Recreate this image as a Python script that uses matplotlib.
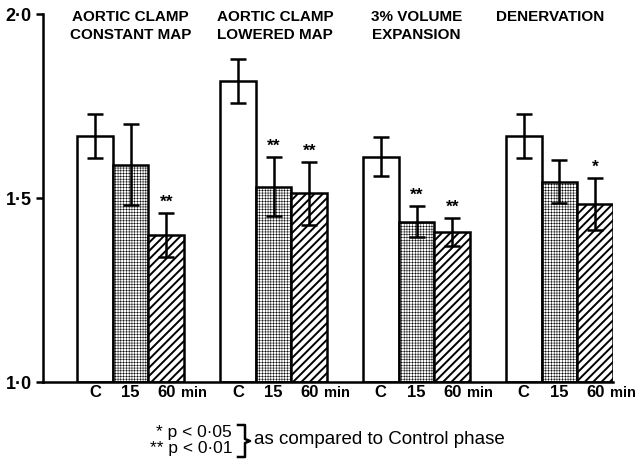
import matplotlib
matplotlib.use("Agg")
import matplotlib.pyplot as plt
import numpy as np
from matplotlib.lines import Line2D

groups = ["AORTIC CLAMP\nCONSTANT MAP", "AORTIC CLAMP\nLOWERED MAP",
          "3% VOLUME\nEXPANSION", "DENERVATION"]
phases = ["C", "15", "60"]
values_C = [1.669, 1.818, 1.612, 1.668]
errors_C = [0.060, 0.059, 0.053, 0.059]
values_15 = [1.590, 1.531, 1.436, 1.544]
errors_15 = [0.110, 0.080, 0.042, 0.058]
values_60 = [1.399, 1.513, 1.408, 1.484]
errors_60 = [0.060, 0.085, 0.038, 0.071]
stars_15 = ["", "**", "**", ""]
stars_60 = ["**", "**", "**", "*"]
yticks = [1.0, 1.5, 2.0]
ytick_labels = ["1·0", "1·5", "2·0"]

FONT = ["Liberation Sans", "DejaVu Sans"]
plt.rcParams['font.family'] = FONT
plt.rcParams['hatch.color'] = 'black'

fig = plt.figure(figsize=(6.42, 4.67), dpi=100)
ax = fig.add_axes([0.0665, 0.182, 0.8885, 0.788])

ng = len(groups)
gx = np.arange(ng) * 4.0
series = [(values_C, errors_C, None, 1.6),
          (values_15, errors_15, '++++++', 0.35),
          (values_60, errors_60, '////', 1.4)]
for j, (vals, errs, hatch, hlw) in enumerate(series):
    xs = gx + j
    with plt.rc_context({'hatch.linewidth': hlw}):
        bars = ax.bar(xs, np.array(vals) - 1.0, bottom=1.0, width=1.0,
                      color='white', edgecolor='black', linewidth=1.8,
                      hatch=hatch, zorder=2)
    ax.errorbar(xs, vals, yerr=errs, fmt='none', ecolor='black',
                elinewidth=1.8, capsize=5.5, capthick=1.8, zorder=3)

for g in range(ng):
    for j, (vals, errs, st) in enumerate([(values_15, errors_15, stars_15),
                                          (values_60, errors_60, stars_60)], start=1):
        if st[g]:
            ax.text(gx[g] + j, vals[g] + errs[g] + 0.008, st[g], ha='center',
                    va='bottom', fontsize=12.5, fontweight='bold')

title_x = [1.0, 1.05, 1.0, 0.75]
for g in range(ng):
    ax.text(gx[g] + title_x[g], 2.012, groups[g], ha='center', va='top', fontsize=11,
            fontweight='bold', linespacing=1.4)

ax.set_xlim(-1.46, gx[-1] + 2.5)
ax.set_ylim(1.0, 2.0)
ax.set_yticks(yticks)
ax.set_yticklabels(ytick_labels, fontsize=13, fontweight='bold')
ax.tick_params(axis='y', direction='out', length=5, width=1.8, pad=3)
ax.set_xticks([])
for s in ['top', 'right']:
    ax.spines[s].set_visible(False)
for s in ['left', 'bottom']:
    ax.spines[s].set_linewidth(1.8)

# x labels
for g in range(ng):
    for j, lab in enumerate(phases):
        ax.text(gx[g] + j, -0.029, lab, ha='center', va='center', fontsize=12,
                fontweight='bold', transform=ax.get_xaxis_transform())
    ax.text(gx[g] + 2.42, -0.031, "min", ha='left', va='center', fontsize=10.5,
            fontweight='bold', transform=ax.get_xaxis_transform())

W, H = 642, 467
def fx(px): return px / W
def fy(py): return 1 - py / H

fig.text(fx(232), fy(432), "* p < 0·05", ha='right', va='center', fontsize=12.5)
fig.text(fx(232), fy(449), "** p < 0·01", ha='right', va='center', fontsize=12.5)
fig.text(fx(254), fy(440), "as compared to Control phase", ha='left', va='center',
         fontsize=13.5)
bx = [fx(238), fx(245), fx(245), fx(250), fx(245), fx(245), fx(238)]
by = [fy(425), fy(425), fy(439), fy(441), fy(443), fy(457), fy(457)]
fig.add_artist(Line2D(bx, by, color='black', linewidth=1.8, transform=fig.transFigure))

fig.savefig("out.png", dpi=100)
